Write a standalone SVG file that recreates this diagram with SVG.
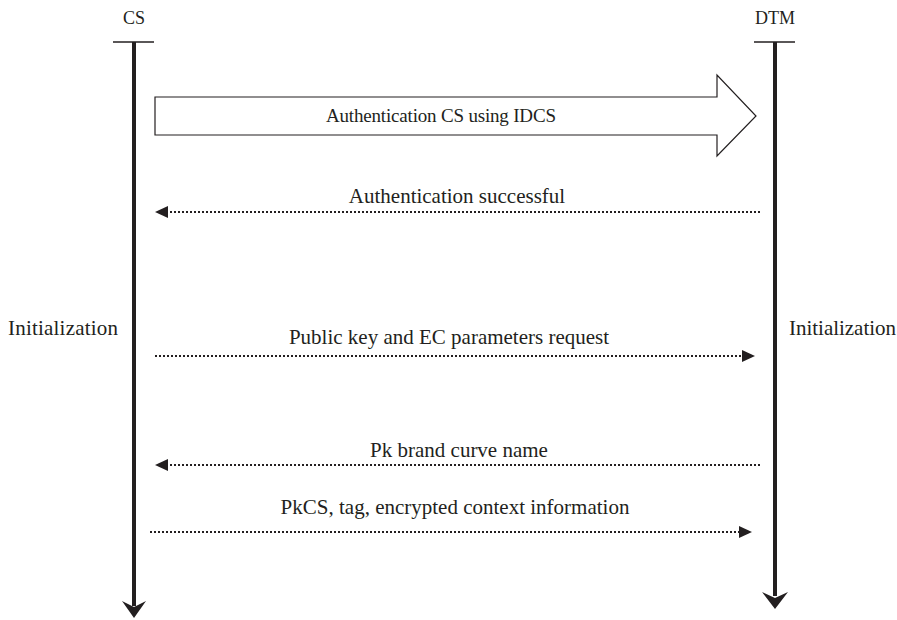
<svg xmlns="http://www.w3.org/2000/svg" width="897" height="620" viewBox="0 0 897 620">
<style>
text{font-family:"Liberation Serif","Times New Roman",serif;font-size:21px;fill:#231f20}
.hd{font-size:18px}
.life{stroke:#231f20;stroke-width:4;fill:none}
.bar{stroke:#231f20;stroke-width:1.3}
.dot{stroke:#231f20;stroke-width:2;stroke-dasharray:2 2;fill:none}
.head{fill:#231f20}
</style>
<rect width="897" height="620" fill="#fff"/>
<g id="cs">
<text class="hd" x="134" y="24" text-anchor="middle">CS</text>
<line class="bar" x1="113" y1="42" x2="154" y2="42"/>
<line class="life" x1="134" y1="42" x2="134" y2="606"/>
<path class="head" d="M122,601 L134,618 L146,601 L134,607 Z"/>
<text x="8" y="335" textLength="110">Initialization</text>
</g>
<g id="dtm">
<text class="hd" x="775" y="24" text-anchor="middle">DTM</text>
<line class="bar" x1="754" y1="42" x2="795" y2="42"/>
<line class="life" x1="775" y1="42" x2="775" y2="596"/>
<path class="head" d="M762,592 L775,609 L788,592 L775,598 Z"/>
<text x="789" y="335" textLength="107">Initialization</text>
</g>
<g id="connectors">
<g id="auth-arrow">
<path d="M155,97 L717,97 L717,75 L756,116 L717,156 L717,135 L155,135 Z" fill="#fff" stroke="#231f20" stroke-width="1.2"/>
<text x="441" y="122" text-anchor="middle" style="font-size:19px" textLength="230">Authentication CS using IDCS</text>
</g>
<g id="m1">
<line class="dot" x1="760" y1="212" x2="166" y2="212"/>
<path class="head" d="M155,212 L168,206 L168,218 Z"/>
<text x="457" y="203" text-anchor="middle">Authentication successful</text>
</g>
<g id="m2">
<line class="dot" x1="155" y1="356" x2="743" y2="356"/>
<path class="head" d="M755,356 L742,350 L742,362 Z"/>
<text x="449" y="344" text-anchor="middle">Public key and EC parameters request</text>
</g>
<g id="m3">
<line class="dot" x1="760" y1="465" x2="166" y2="465"/>
<path class="head" d="M155,465 L168,459 L168,471 Z"/>
<text x="459" y="457" text-anchor="middle">Pk brand curve name</text>
</g>
<g id="m4">
<line class="dot" x1="150" y1="532" x2="740" y2="532"/>
<path class="head" d="M752,532 L739,526 L739,538 Z"/>
<text x="455" y="514" text-anchor="middle">PkCS, tag, encrypted context information</text>
</g>
</g>
</svg>
